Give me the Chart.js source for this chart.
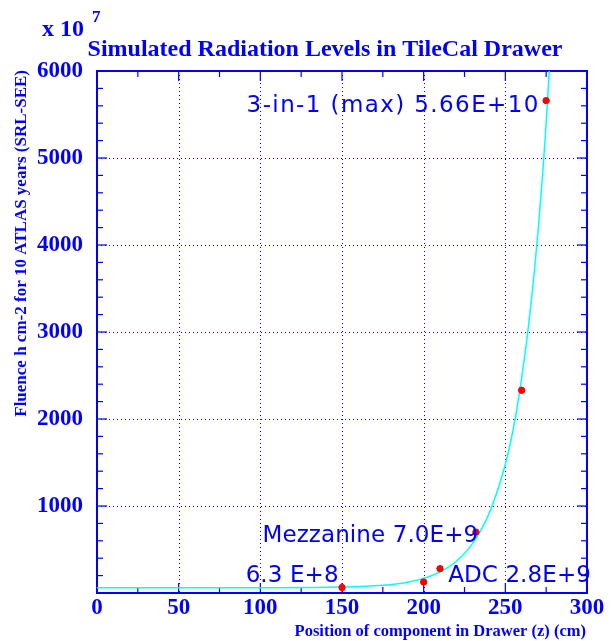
<!DOCTYPE html>
<html>
<head>
<meta charset="utf-8">
<script src="https://cdn.jsdelivr.net/npm/chart.js@4/dist/chart.umd.min.js"></script>
<style>
  html, body { margin: 0; padding: 0; background: #fff; }
</style>
</head>
<body>
<canvas id="myChart" width="615" height="641"></canvas>
<script>
// measured components: position in drawer (cm) and fluence (units of 10^7 h/cm2)
const componentZ = [150, 200, 210, 232, 260, 275];
const fluence = [63, 126, 280, 700, 2330, 5660];

// fitted curve
const fitZ = [0, 50, 100, 150, 175, 190, 200, 210, 220, 230, 240, 250, 255, 260, 265, 270, 275, 280];
const fitFluence = [60, 60, 61, 68, 89, 124, 168, 242, 365, 570, 912, 1480, 1900, 2470, 3200, 4150, 5400, 7000];

const xMajor = [0, 50, 100, 150, 200, 250, 300];
const xMinor = [25, 75, 125, 175, 225, 275];
const yMajor = [0, 1000, 2000, 3000, 4000, 5000, 6000];
const yMinor = [200, 400, 600, 800, 1200, 1400, 1600, 1800, 2200, 2400, 2600, 2800,
                3200, 3400, 3600, 3800, 4200, 4400, 4600, 4800, 5200, 5400, 5600, 5800];

// labels placed in data coordinates (left edge, baseline)
const noteText = ['3-in-1 (max) 5.66E+10', 'Mezzanine 7.0E+9', '6.3 E+8', 'ADC 2.8E+9'];
const noteZ = [91.6, 101.3, 91, 215];
const noteF = [5527, 586, 126, 126];
const noteSpacing = [1.4, 0.1, 0.1, 0.1]; // px between letters

const BLUE = '#0000ff';
const serif = '"Liberation Serif", "Times New Roman", serif';

const framePlugin = {
    id: 'frame',
    beforeDatasetsDraw(chart) {
        const ctx = chart.ctx;
        const a = chart.chartArea;
        const xs = chart.scales.x, ys = chart.scales.y;
        ctx.save();
        // dotted grid
        ctx.strokeStyle = BLUE;
        ctx.lineWidth = 1;
        ctx.setLineDash([1, 3]);
        xMajor.slice(1, -1).forEach(v => {
            const px = Math.round(xs.getPixelForValue(v)) + 0.5;
            ctx.beginPath(); ctx.moveTo(px, a.top); ctx.lineTo(px, a.bottom); ctx.stroke();
        });
        yMajor.slice(1, -1).forEach(v => {
            const py = Math.round(ys.getPixelForValue(v)) + 0.5;
            ctx.beginPath(); ctx.moveTo(a.left, py); ctx.lineTo(a.right, py); ctx.stroke();
        });
        ctx.setLineDash([]);
        // ticks on all four sides, inward
        const tick = (x1, y1, x2, y2) => { ctx.beginPath(); ctx.moveTo(x1, y1); ctx.lineTo(x2, y2); ctx.stroke(); };
        ctx.lineWidth = 1.2;
        xMajor.forEach(v => { const px = xs.getPixelForValue(v); tick(px, a.bottom, px, a.bottom - 10); tick(px, a.top, px, a.top + 10); });
        xMinor.forEach(v => { const px = xs.getPixelForValue(v); tick(px, a.bottom, px, a.bottom - 6); tick(px, a.top, px, a.top + 6); });
        yMajor.forEach(v => { const py = ys.getPixelForValue(v); tick(a.left, py, a.left + 10, py); tick(a.right, py, a.right - 10, py); });
        yMinor.forEach(v => { const py = ys.getPixelForValue(v); tick(a.left, py, a.left + 6, py); tick(a.right, py, a.right - 6, py); });
        // frame
        ctx.lineWidth = 2;
        ctx.strokeRect(a.left, a.top, a.right - a.left, a.bottom - a.top);
        ctx.restore();
    },
    afterDraw(chart) {
        const ctx = chart.ctx;
        const xs = chart.scales.x, ys = chart.scales.y;
        ctx.save();
        ctx.fillStyle = BLUE;
        // title
        ctx.font = 'bold 24px ' + serif;
        ctx.textAlign = 'center';
        ctx.textBaseline = 'alphabetic';
        ctx.fillText('Simulated Radiation Levels in TileCal Drawer', 325, 56);
        // exponent
        ctx.textAlign = 'left';
        ctx.font = 'bold 24px ' + serif;
        ctx.fillText('x 10', 42, 36);
        ctx.font = 'bold 17px ' + serif;
        ctx.fillText('7', 92, 22);
        // axis titles
        ctx.font = 'bold 16.5px ' + serif;
        ctx.textAlign = 'right';
        ctx.fillText('Position of component in Drawer (z) (cm)', 586, 636);
        ctx.save();
        ctx.translate(26, 70);
        ctx.rotate(-Math.PI / 2);
        ctx.textAlign = 'right';
        ctx.font = 'bold 17px ' + serif;
        ctx.fillText('Fluence h cm-2 for 10 ATLAS years (SRL-SEE)', 0, 0);
        ctx.restore();
        // notes
        ctx.font = '23px "DejaVu Sans", sans-serif';
        ctx.textAlign = 'left';
        noteText.forEach((t, i) => {
            ctx.letterSpacing = noteSpacing[i] + 'px';
            ctx.fillText(t, xs.getPixelForValue(noteZ[i]), ys.getPixelForValue(noteF[i]));
        });
        ctx.restore();
    }
};

const ctx = document.getElementById('myChart').getContext('2d');
const myChart = new Chart(ctx, {
    type: 'scatter',
    data: {
        datasets: [{
            label: 'fit',
            type: 'line',
            data: fitZ.map((z, i) => ({ x: z, y: fitFluence[i] })),
            borderColor: '#00ffff',
            borderWidth: 1.5,
            pointRadius: 0,
            cubicInterpolationMode: 'monotone',
            fill: false,
            order: 2
        }, {
            label: 'components',
            data: componentZ.map((z, i) => ({ x: z, y: fluence[i] })),
            backgroundColor: '#ff0000',
            borderColor: '#ff0000',
            pointRadius: 3.2,
            order: 1
        }]
    },
    options: {
        responsive: false,
        animation: false,
        layout: { padding: { top: 71, right: 28, left: 0, bottom: 0 } },
        plugins: { legend: { display: false }, tooltip: { enabled: false } },
        scales: {
            x: {
                type: 'linear',
                min: 0, max: 300,
                afterFit: s => { s.height = 48; },
                afterBuildTicks: s => { s.ticks = xMajor.map(v => ({ value: v })); },
                ticks: { color: BLUE, font: { family: serif, size: 23, weight: 'bold' }, padding: 1, maxRotation: 0 },
                grid: { display: false, drawTicks: false },
                border: { display: false }
            },
            y: {
                min: 0, max: 6000,
                afterFit: s => { s.width = 97; },
                afterBuildTicks: s => { s.ticks = yMajor.map(v => ({ value: v })); },
                ticks: {
                    color: BLUE, font: { family: serif, size: 23, weight: 'bold' }, padding: 14,
                    callback: v => v === 0 ? '' : String(v)
                },
                grid: { display: false, drawTicks: false },
                border: { display: false }
            }
        }
    },
    plugins: [framePlugin]
});
</script>
</body>
</html>
